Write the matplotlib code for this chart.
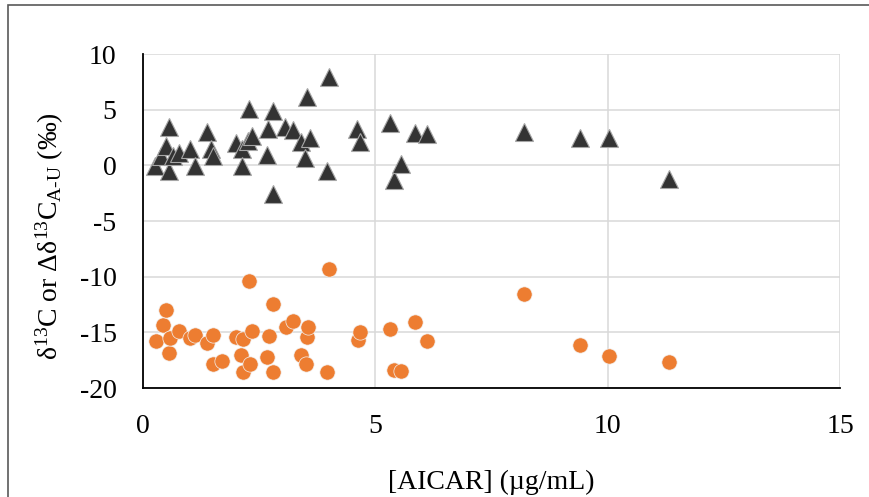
import matplotlib
matplotlib.use("Agg")
import matplotlib.pyplot as plt
from matplotlib.patches import Rectangle

plt.rcParams['font.family'] = ['Liberation Serif', 'DejaVu Serif']
plt.rcParams['mathtext.fontset'] = 'custom'
plt.rcParams['mathtext.rm'] = 'Liberation Serif'
plt.rcParams['mathtext.it'] = 'Liberation Serif:italic'

# delta 13C of AICAR (or difference A-U), per mil  -> dark triangles
tri_x = [0.26, 0.39, 0.49, 0.57, 0.57, 0.65, 0.78, 1.01, 1.12, 1.37, 1.47, 1.51,
         2.01, 2.12, 2.12, 2.25, 2.28, 2.34, 2.66, 2.70, 2.79, 2.80, 3.05, 3.22,
         3.40, 3.48, 3.52, 3.59, 3.95, 4.00, 4.61, 4.67,
         5.31, 5.40, 5.56, 5.85, 6.11, 8.19, 9.41, 10.03, 11.32]
tri_y = [-0.1, 0.8, 1.7, 3.4, -0.5, 0.8, 1.1, 1.5, -0.1, 3.0, 1.5, 0.8,
         2.0, 1.5, -0.1, 2.2, 5.1, 2.6, 0.9, 3.3, 4.9, -2.6, 3.4, 3.2,
         2.1, 0.7, 6.1, 2.5, -0.5, 7.9, 3.3, 2.1,
         3.8, -1.3, 0.1, 2.9, 2.8, 3.0, 2.5, 2.5, -1.2]

# orange circles
circ_x = [0.29, 0.42, 0.49, 0.57, 0.58, 0.78, 1.01, 1.12, 1.37, 1.51, 1.51, 1.69,
          2.01, 2.11, 2.16, 2.16, 2.28, 2.30, 2.34, 2.66, 2.72, 2.79, 2.80, 3.07,
          3.22, 3.40, 3.50, 3.52, 3.56, 3.95, 4.01, 4.62, 4.67,
          5.31, 5.40, 5.56, 5.85, 6.11, 8.19, 9.41, 10.03, 11.32]
circ_y = [-15.75, -14.3, -13.0, -16.9, -15.55, -14.9, -15.55, -15.2, -16.0, -15.2, -17.8, -17.6,
          -15.4, -17.0, -15.6, -18.55, -10.4, -17.85, -14.85, -17.2, -15.3, -12.45, -18.55, -14.5,
          -13.95, -17.0, -17.8, -15.45, -14.5, -18.55, -9.3, -15.7, -15.0,
          -14.7, -18.4, -18.45, -14.1, -15.75, -11.6, -16.1, -17.1, -17.7]

fig = plt.figure(figsize=(8.7, 4.97), dpi=100)
ax = fig.add_axes([143 / 870, 1 - 388 / 497, (840 - 143) / 870, (388 - 54) / 497])

ax.plot(tri_x, tri_y, linestyle='none', marker='^', markersize=13,
        markerfacecolor='#333333', markeredgecolor='#a6a6a6', markeredgewidth=0.8, zorder=3)
ax.plot(circ_x, circ_y, linestyle='none', marker='o', markersize=11,
        markerfacecolor='#ED7D31', markeredgecolor='#f2f2f2', markeredgewidth=0.5, zorder=3)

ax.set_xlim(0, 15)
ax.set_ylim(-20, 10)
ax.set_xticks([0, 5, 10, 15])
ax.set_yticks([-20, -15, -10, -5, 0, 5, 10])
ax.set_yticklabels(['-20', '-15', '-10', '-5', '0', '5', '10'])
ax.tick_params(length=0, labelsize=20, pad=19)
ax.grid(True, color='#d9d9d9', linewidth=1.1, zorder=0)
ax.set_axisbelow(True)
for s in ['top', 'right']:
    ax.spines[s].set_visible(False)
for s in ['left', 'bottom']:
    ax.spines[s].set_color('black')
    ax.spines[s].set_linewidth(1.3)

ax.set_xlabel('[AICAR] (µg/mL)', fontsize=20, labelpad=22)
fig.text(50 / 870, 1 - 236 / 497, 'δ$^{13}$C or Δδ$^{13}$C$_{\\mathrm{A‐U}}$ (‰)',
         rotation=90, ha='center', va='center', fontsize=20)

# outer chart frame
fig.patches.append(Rectangle((8 / 870, -0.1), 1.2, 1 - 5 / 497 + 0.1, transform=fig.transFigure,
                             fill=False, edgecolor='#595959', linewidth=1.2))

fig.savefig('out.png', dpi=100)
